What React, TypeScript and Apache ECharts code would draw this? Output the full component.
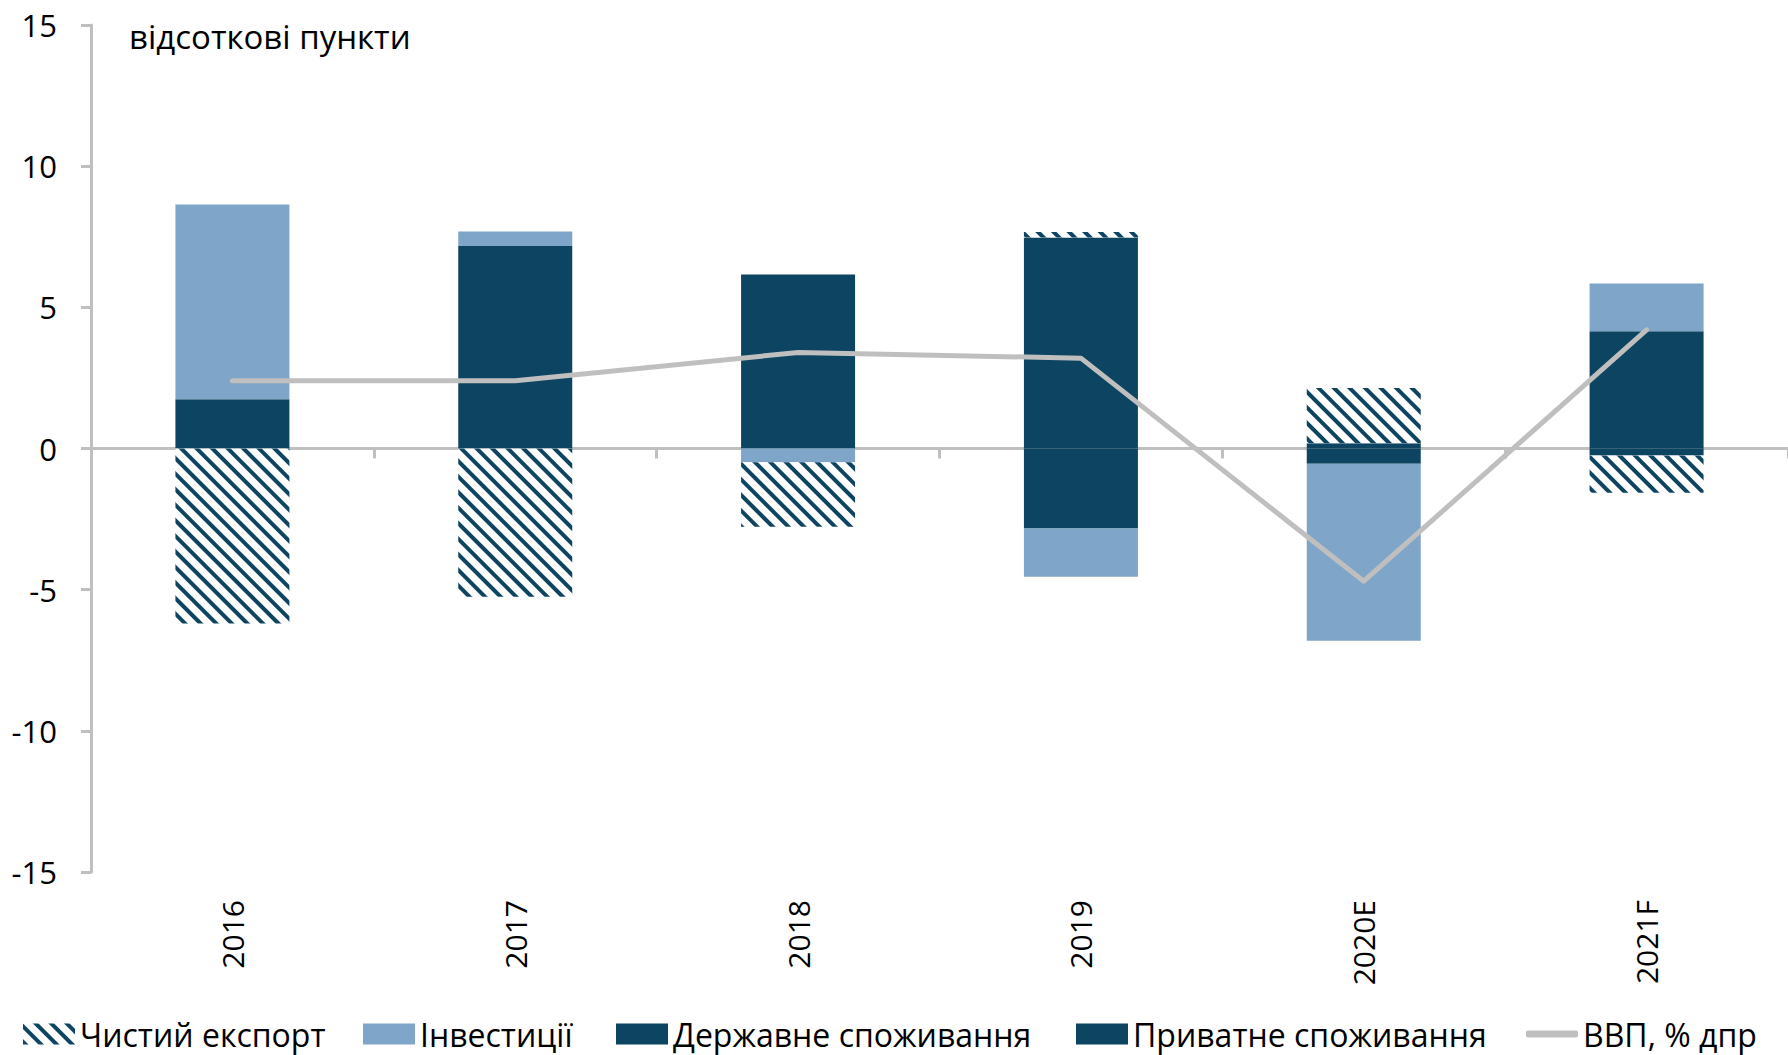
import React, { useEffect, useRef } from "react";
import * as echarts from "echarts";

const categories = ["2016", "2017", "2018", "2019", "2020E", "2021F"];
const netExports = [-6.2, -5.25, -2.28, 0.2, 1.95, -1.32];
const investment = [6.9, 0.52, -0.49, -1.71, -6.27, 1.69];
const govConsumption = [0, 0.88, 0, -2.83, 0.19, -0.25];
const privateConsumption = [1.74, 6.29, 6.16, 7.47, -0.54, 4.15];
const gdp = [2.4, 2.4, 3.4, 3.2, -4.7, 4.2];

const seriesNames = [
  "Чистий експорт",
  "Інвестиції",
  "Державне споживання",
  "Приватне споживання",
  "ВВП, % дпр",
];
const unitLabel = "відсоткові пункти";
const yMin = -15;
const yMax = 15;
const yInterval = 5;

const DARK = "#0d4461";
const LIGHT = "#7fa5c8";
const GRAY = "#bfbfbf";
const FONT = "Open Sans";

const legendLefts = [23, 363, 616, 1076, 1526];

export default function App() {
  const ref = useRef<HTMLDivElement>(null);
  useEffect(() => {
    if (!ref.current) return;
    const chart = echarts.init(ref.current, undefined, { renderer: "svg" });
    const textStyle = { fontFamily: FONT, fontSize: 30, color: "#000" };
    const legends = seriesNames.map((name, i) => {
      const base: any = {
        data: [name],
        left: legendLefts[i],
        top: 1018,
        padding: 0,
        icon: i === 4 ? "roundRect" : "rect",
        itemWidth: 52,
        itemHeight: i === 4 ? 7 : 21,
        textStyle: { ...textStyle, fontSize: 32 },
      };
      if (i === 4) base.itemStyle = { color: GRAY };
      return base;
    });
    chart.setOption({
      animation: false,
      backgroundColor: "#fff",
      grid: { left: 91, top: 25, height: 847, width: 1699 },
      xAxis: [
        {
          type: "category",
          data: categories,
          position: "bottom",
          axisLine: { show: true, onZero: true, lineStyle: { color: GRAY, width: 3 } },
          axisTick: { show: true, length: 10, lineStyle: { color: GRAY, width: 3 } },
          axisLabel: { show: false },
        },
        {
          type: "category",
          data: categories,
          position: "bottom",
          axisLine: { show: false, onZero: false },
          axisTick: { show: false },
          axisLabel: { ...textStyle, rotate: 90, margin: 28 },
        },
      ],
      yAxis: {
        type: "value",
        min: yMin,
        max: yMax,
        interval: yInterval,
        axisLine: { show: true, lineStyle: { color: GRAY, width: 3 } },
        axisTick: { show: true, length: 10, lineStyle: { color: GRAY, width: 3 } },
        splitLine: { show: false },
        axisLabel: { ...textStyle, fontSize: 31, margin: 34 },
      },
      legend: legends,
      graphic: [
        {
          type: "text",
          left: 129,
          top: 20,
          style: { text: unitLabel, font: `33px "${FONT}"`, fill: "#000" },
        },
      ],
      series: [
        {
          name: seriesNames[3],
          type: "bar",
          stack: "total",
          barWidth: 114,
          data: privateConsumption,
          itemStyle: { color: DARK },
        },
        {
          name: seriesNames[2],
          type: "bar",
          stack: "total",
          barWidth: 114,
          data: govConsumption,
          itemStyle: { color: DARK },
        },
        {
          name: seriesNames[1],
          type: "bar",
          stack: "total",
          barWidth: 114,
          data: investment,
          itemStyle: { color: LIGHT },
        },
        {
          name: seriesNames[0],
          type: "bar",
          stack: "total",
          barWidth: 114,
          data: netExports,
          itemStyle: {
            color: "#fff",
            decal: {
              symbol: "rect",
              symbolSize: 1,
              dashArrayX: [1, 0],
              dashArrayY: [4, 7],
              rotation: Math.PI / 4,
              color: DARK,
            },
          },
        },
        {
          name: seriesNames[4],
          type: "line",
          data: gdp,
          symbol: "none",
          z: 10,
          lineStyle: { color: GRAY, width: 5, cap: "round", join: "round" },
          itemStyle: { color: GRAY },
        },
      ],
    });
    return () => chart.dispose();
  }, []);
  return (
    <div
      ref={ref}
      style={{ position: "fixed", left: 0, top: 0, width: 1788, height: 1055 }}
    />
  );
}
